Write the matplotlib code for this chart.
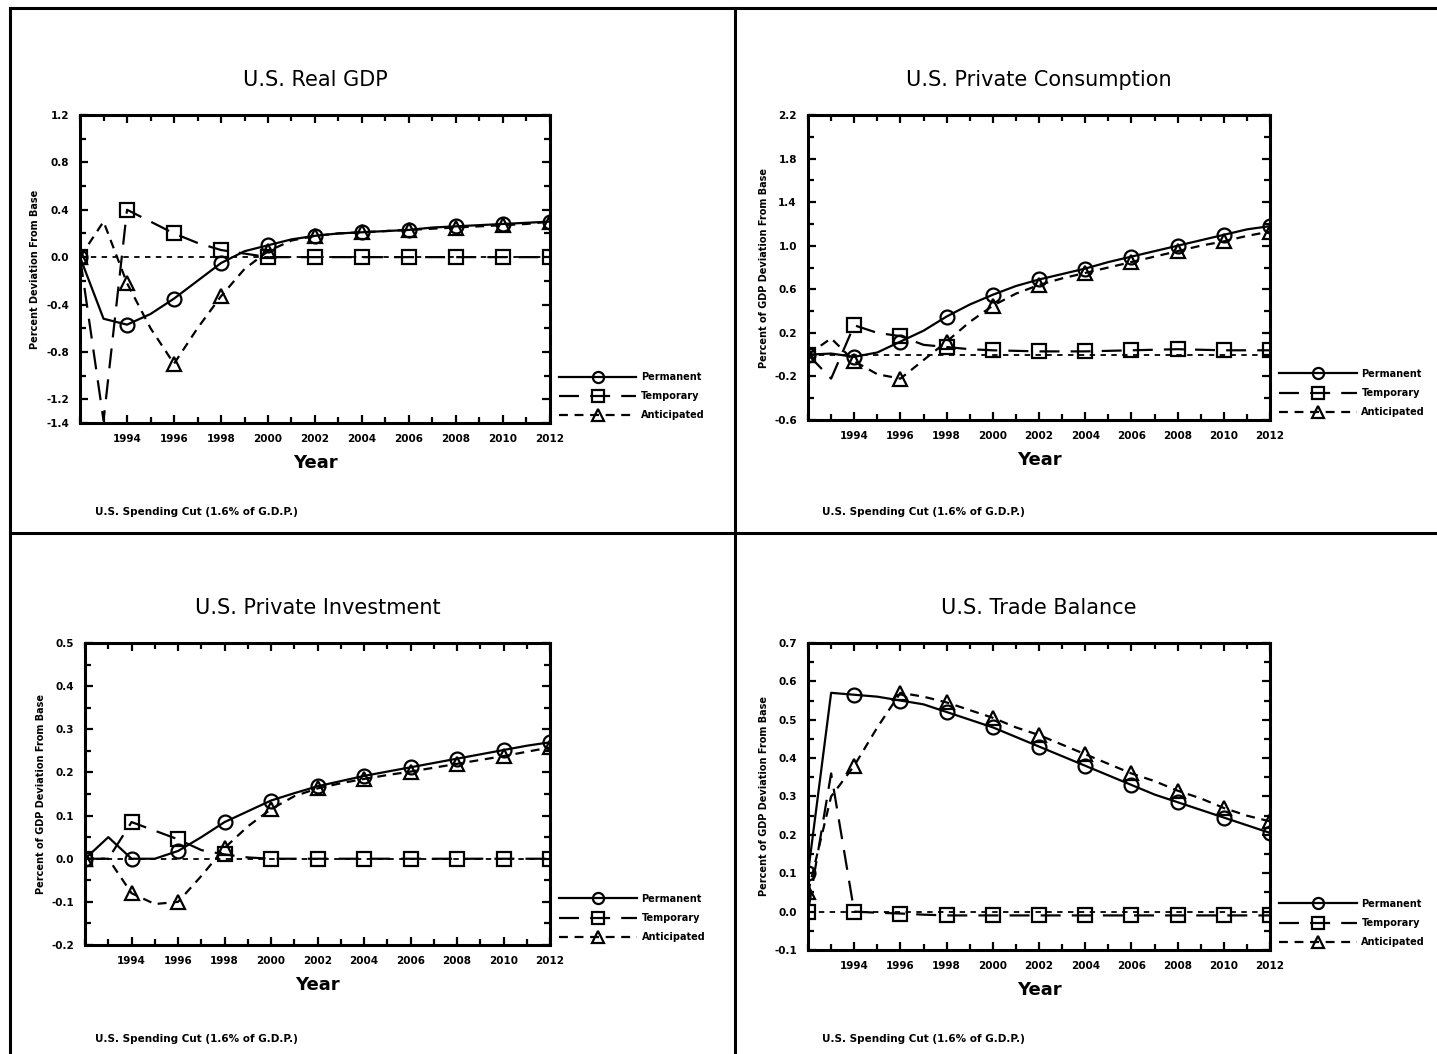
import numpy as np
import matplotlib
matplotlib.use("Agg")
import matplotlib.pyplot as plt
from matplotlib.lines import Line2D
from matplotlib.ticker import MultipleLocator

years = list(range(1992, 2013))

# U.S. Real GDP
gdp_perm = [0.0, -0.52, -0.57, -0.48, -0.35, -0.2, -0.05, 0.05, 0.1, 0.15, 0.18,
            0.2, 0.21, 0.22, 0.23, 0.25, 0.26, 0.27, 0.28, 0.29, 0.3]
gdp_temp = [0.0, -1.38, 0.4, 0.3, 0.2, 0.12, 0.06, 0.03, 0.0, 0.0, 0.0,
            0.0, 0.0, 0.0, 0.0, 0.0, 0.0, 0.0, 0.0, 0.0, 0.0]
gdp_anti = [0.0, 0.3, -0.22, -0.6, -0.9, -0.6, -0.33, -0.1, 0.05, 0.14, 0.18,
            0.2, 0.21, 0.22, 0.23, 0.24, 0.25, 0.26, 0.27, 0.28, 0.3]

# U.S. Private Consumption
con_perm = [0.0, 0.01, -0.02, 0.02, 0.12, 0.22, 0.35, 0.46, 0.55, 0.63, 0.69,
            0.74, 0.79, 0.85, 0.9, 0.95, 1.0, 1.05, 1.1, 1.15, 1.18]
con_temp = [0.0, -0.22, 0.27, 0.2, 0.17, 0.09, 0.07, 0.05, 0.04, 0.035, 0.03,
            0.03, 0.03, 0.035, 0.04, 0.045, 0.05, 0.045, 0.04, 0.04, 0.04]
con_anti = [0.0, 0.15, -0.06, -0.18, -0.22, -0.05, 0.12, 0.3, 0.45, 0.56, 0.64,
            0.7, 0.75, 0.8, 0.85, 0.9, 0.95, 1.0, 1.04, 1.09, 1.13]

# U.S. Private Investment
inv_perm = [0.0, 0.05, 0.0, 0.0, 0.018, 0.05, 0.085, 0.11, 0.135, 0.152, 0.168,
            0.18, 0.192, 0.202, 0.212, 0.222, 0.232, 0.242, 0.252, 0.262, 0.27]
inv_temp = [0.0, 0.0, 0.085, 0.065, 0.045, 0.02, 0.01, 0.003, 0.0, 0.0, 0.0,
            0.0, 0.0, 0.0, 0.0, 0.0, 0.0, 0.0, 0.0, 0.0, 0.0]
inv_anti = [0.0, 0.0, -0.08, -0.105, -0.1, -0.04, 0.025, 0.075, 0.115, 0.145, 0.163,
            0.175, 0.185, 0.194, 0.202, 0.211, 0.22, 0.229, 0.238, 0.248, 0.258]

# U.S. Trade Balance
tb_perm = [0.1, 0.57, 0.565, 0.56, 0.55, 0.54, 0.52, 0.5, 0.48, 0.455, 0.43,
           0.405, 0.38, 0.355, 0.33, 0.305, 0.285, 0.265, 0.245, 0.225, 0.205]
tb_temp = [0.0, 0.36, 0.0, -0.003, -0.005, -0.008, -0.01, -0.01, -0.01, -0.01, -0.01,
           -0.01, -0.01, -0.01, -0.01, -0.01, -0.01, -0.01, -0.01, -0.01, -0.01]
tb_anti = [0.05, 0.3, 0.38, 0.48, 0.57, 0.56, 0.545, 0.525, 0.505, 0.48, 0.46,
           0.435, 0.41, 0.385, 0.36, 0.34, 0.315, 0.295, 0.27, 0.25, 0.235]

titles = ["U.S. Real GDP", "U.S. Private Consumption",
          "U.S. Private Investment", "U.S. Trade Balance"]
ylabels = ["Percent Deviation From Base", "Percent of GDP Deviation From Base",
           "Percent of GDP Deviation From Base", "Percent of GDP Deviation From Base"]
note = "U.S. Spending Cut (1.6% of G.D.P.)"
series_names = ["Permanent", "Temporary", "Anticipated"]

# y tick labels as printed on each panel
yticks = [
    [-1.4, -1.2, -0.8, -0.4, 0.0, 0.4, 0.8, 1.2],
    [-0.6, -0.2, 0.2, 0.6, 1.0, 1.4, 1.8, 2.2],
    [-0.2, -0.1, 0.0, 0.1, 0.2, 0.3, 0.4, 0.5],
    [-0.1, 0.0, 0.1, 0.2, 0.3, 0.4, 0.5, 0.6, 0.7],
]
yminor = [0.2, 0.2, 0.05, 0.05]

panels = [
    (gdp_perm, gdp_temp, gdp_anti),
    (con_perm, con_temp, con_anti),
    (inv_perm, inv_temp, inv_anti),
    (tb_perm, tb_temp, tb_anti),
]

# axes boxes in figure fractions [left, bottom, width, height]
boxes = [
    [0.0557, 0.5987, 0.3270, 0.2922],
    [0.5623, 0.6015, 0.3215, 0.2894],
    [0.0592, 0.1034, 0.3236, 0.2865],
    [0.5623, 0.0987, 0.3215, 0.2913],
]
notes_xy = [(0.066, 0.511), (0.572, 0.511), (0.066, 0.011), (0.572, 0.011)]

fig = plt.figure(figsize=(14.37, 10.54), dpi=100)

# outer frame and dividers
for xs, ys in [([0.007, 0.007], [0.0, 0.992]), ([0.007, 1.0], [0.992, 0.992]),
               ([0.5115, 0.5115], [0.0, 0.992]), ([0.007, 1.0], [0.494, 0.494])]:
    fig.add_artist(Line2D(xs, ys, color="black", lw=2.2))

styles = [
    dict(ls="-", marker="o"),
    dict(ls=(0, (9, 5)), marker="s"),
    dict(ls=(0, (4, 3)), marker="^"),
]

for i, (perm, temp, anti) in enumerate(panels):
    ax = fig.add_axes(boxes[i])
    ax.plot(years, [0] * len(years), color="black", lw=1.3, ls=(0, (3, 3)))
    handles = []
    for data, st, name in zip([perm, temp, anti], styles, series_names):
        h, = ax.plot(years, data, color="black", lw=1.6, ls=st["ls"],
                     marker=st["marker"], markevery=2, ms=10,
                     mfc="none", mec="black", mew=1.6, label=name)
        handles.append(h)
    ax.set_xlim(1992, 2012)
    ax.set_ylim(yticks[i][0], yticks[i][-1])
    ax.set_xticks(range(1994, 2013, 2))
    ax.xaxis.set_minor_locator(MultipleLocator(1))
    ax.set_yticks(yticks[i])
    ax.yaxis.set_minor_locator(MultipleLocator(yminor[i]))
    ax.tick_params(which="both", direction="in", top=True, right=True, width=1.6)
    ax.tick_params(which="major", length=6, labelsize=7.5, pad=8)
    ax.tick_params(which="minor", length=4)
    ax.set_yticklabels(["{:.1f}".format(v) for v in yticks[i]], fontweight="bold")
    ax.set_xticklabels([str(v) for v in range(1994, 2013, 2)], fontweight="bold")
    for sp in ax.spines.values():
        sp.set_linewidth(2.2)
    ax.set_title(titles[i], fontsize=15, pad=21)
    ax.set_xlabel("Year", fontsize=13, fontweight="bold", labelpad=7)
    ax.set_ylabel(ylabels[i], fontsize=7, fontweight="bold", labelpad=4)
    ax.legend(handles=handles, loc="lower left", bbox_to_anchor=(1.0, -0.02),
              frameon=False, handlelength=8, labelspacing=0.95, markerscale=0.8,
              handletextpad=0.5, prop={"weight": "bold", "size": 7})
    fig.text(notes_xy[i][0], notes_xy[i][1], note, fontsize=7.5, fontweight="bold")

fig.savefig("out.png", dpi=100)
